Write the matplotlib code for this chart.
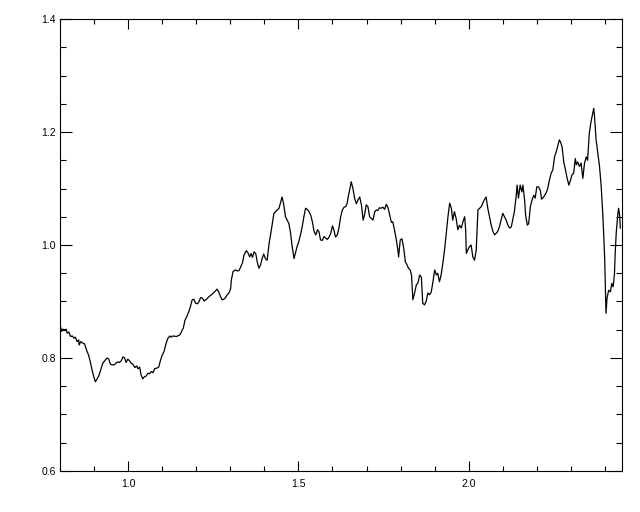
import numpy as np
import matplotlib
matplotlib.use('Agg')
import matplotlib.pyplot as plt
from matplotlib.ticker import MultipleLocator

# Values
x = [0.801, 0.804, 0.808, 0.814, 0.818, 0.821, 0.826, 0.831, 0.836, 0.841,
     0.845, 0.850, 0.855, 0.856, 0.861, 0.865, 0.872, 0.878, 0.884, 0.889,
     0.894, 0.900, 0.904, 0.909, 0.915, 0.921, 0.926, 0.931, 0.938, 0.943,
     0.948, 0.952, 0.960, 0.966, 0.970, 0.974, 0.980, 0.985, 0.990, 0.994,
     0.999, 1.004, 1.009, 1.014, 1.020, 1.025, 1.029, 1.034, 1.038, 1.043,
     1.048, 1.053, 1.058, 1.063, 1.068, 1.073, 1.078, 1.084, 1.090, 1.095,
     1.100, 1.105, 1.112, 1.117, 1.123, 1.126, 1.131, 1.142, 1.152, 1.157,
     1.162, 1.167, 1.172, 1.178, 1.183, 1.188, 1.193, 1.198, 1.204, 1.208,
     1.213, 1.218, 1.223, 1.230, 1.235, 1.240, 1.247, 1.252, 1.257, 1.261,
     1.266, 1.271, 1.276, 1.281, 1.286, 1.291, 1.296, 1.301, 1.303, 1.308,
     1.315, 1.321, 1.326, 1.331, 1.336, 1.340, 1.347, 1.352, 1.357, 1.361,
     1.365, 1.370, 1.375, 1.379, 1.384, 1.389, 1.393, 1.398, 1.403, 1.408,
     1.414, 1.419, 1.424, 1.428, 1.433, 1.438, 1.443, 1.447, 1.452, 1.457,
     1.462, 1.467, 1.472, 1.477, 1.481, 1.486, 1.487, 1.491, 1.496, 1.501,
     1.506, 1.511, 1.516, 1.521, 1.526, 1.531, 1.536, 1.541, 1.546, 1.551,
     1.556, 1.560, 1.565, 1.570, 1.575, 1.580, 1.585, 1.590, 1.595, 1.600,
     1.604, 1.609, 1.614, 1.619, 1.624, 1.629, 1.634, 1.639, 1.643, 1.647,
     1.652, 1.655, 1.660, 1.665, 1.670, 1.675, 1.680, 1.685, 1.690, 1.694,
     1.699, 1.704, 1.709, 1.714, 1.719, 1.724, 1.729, 1.733, 1.738, 1.743,
     1.748, 1.753, 1.758, 1.763, 1.768, 1.773, 1.777, 1.782, 1.787, 1.792,
     1.794, 1.799, 1.804, 1.809, 1.814, 1.818, 1.823, 1.828, 1.832, 1.836,
     1.841, 1.846, 1.851, 1.856, 1.861, 1.865, 1.870, 1.875, 1.880, 1.885,
     1.890, 1.895, 1.900, 1.905, 1.909, 1.914, 1.919, 1.924, 1.929, 1.934,
     1.939, 1.944, 1.949, 1.953, 1.958, 1.963, 1.968, 1.973, 1.978, 1.983,
     1.988, 1.991, 1.993, 1.997, 2.002, 2.007, 2.012, 2.017, 2.022, 2.027,
     2.032, 2.037, 2.041, 2.046, 2.051, 2.056, 2.061, 2.066, 2.071, 2.076,
     2.081, 2.085, 2.090, 2.095, 2.100, 2.105, 2.110, 2.115, 2.120, 2.125,
     2.129, 2.134, 2.139, 2.142, 2.146, 2.151, 2.156, 2.159, 2.164, 2.167,
     2.172, 2.176, 2.181, 2.186, 2.191, 2.195, 2.200, 2.205, 2.210, 2.214,
     2.220, 2.227, 2.232, 2.237, 2.242, 2.247, 2.252, 2.257, 2.261, 2.266,
     2.269, 2.274, 2.279, 2.284, 2.289, 2.294, 2.299, 2.303, 2.308, 2.313,
     2.316, 2.320, 2.325, 2.330, 2.335, 2.340, 2.345, 2.349, 2.354, 2.359,
     2.364, 2.367, 2.369, 2.374, 2.379, 2.384, 2.389, 2.394, 2.399, 2.402,
     2.403, 2.406, 2.411, 2.416, 2.420, 2.424, 2.428, 2.430, 2.433, 2.437,
     2.440, 2.443, 2.445]

y = [0.858, 0.847, 0.851, 0.850, 0.851, 0.844, 0.846, 0.838, 0.839, 0.835,
     0.837, 0.829, 0.832, 0.823, 0.829, 0.827, 0.825, 0.814, 0.805, 0.793,
     0.779, 0.765, 0.758, 0.763, 0.770, 0.782, 0.791, 0.795, 0.800, 0.798,
     0.789, 0.788, 0.788, 0.792, 0.793, 0.792, 0.795, 0.802, 0.800, 0.792,
     0.798, 0.795, 0.791, 0.789, 0.783, 0.786, 0.781, 0.784, 0.770, 0.763,
     0.767, 0.768, 0.773, 0.772, 0.776, 0.774, 0.781, 0.782, 0.784, 0.796,
     0.805, 0.811, 0.827, 0.835, 0.839, 0.837, 0.839, 0.838, 0.841, 0.847,
     0.853, 0.867, 0.873, 0.882, 0.891, 0.903, 0.904, 0.897, 0.896, 0.900,
     0.907, 0.906, 0.901, 0.904, 0.907, 0.910, 0.913, 0.916, 0.919, 0.922,
     0.917, 0.909, 0.903, 0.904, 0.907, 0.912, 0.915, 0.923, 0.938, 0.953,
     0.956, 0.954, 0.955, 0.962, 0.969, 0.982, 0.990, 0.986, 0.979, 0.985,
     0.978, 0.988, 0.984, 0.970, 0.959, 0.965, 0.975, 0.984, 0.976, 0.973,
     1.003, 1.021, 1.041, 1.056, 1.059, 1.062, 1.065, 1.074, 1.085, 1.071,
     1.050, 1.044, 1.038, 1.021, 1.000, 0.979, 0.976, 0.985, 0.997, 1.006,
     1.018, 1.032, 1.050, 1.065, 1.063, 1.059, 1.053, 1.041, 1.024, 1.018,
     1.027, 1.024, 1.009, 1.008, 1.015, 1.012, 1.010, 1.014, 1.021, 1.034,
     1.027, 1.014, 1.018, 1.030, 1.050, 1.062, 1.067, 1.068, 1.074, 1.088,
     1.102, 1.112, 1.100, 1.083, 1.073, 1.080, 1.085, 1.071, 1.044, 1.053,
     1.071, 1.068, 1.050, 1.047, 1.044, 1.059, 1.062, 1.061, 1.066, 1.065,
     1.067, 1.063, 1.072, 1.066, 1.053, 1.040, 1.041, 1.027, 1.011, 0.991,
     0.979, 1.009, 1.011, 0.995, 0.970, 0.966, 0.959, 0.956, 0.947, 0.903,
     0.915, 0.929, 0.933, 0.947, 0.943, 0.897, 0.894, 0.900, 0.915, 0.912,
     0.917, 0.935, 0.956, 0.947, 0.950, 0.935, 0.947, 0.968, 0.991, 1.021,
     1.050, 1.074, 1.065, 1.044, 1.059, 1.047, 1.027, 1.035, 1.030, 1.041,
     1.050, 1.027, 0.985, 0.991, 0.997, 1.000, 0.979, 0.973, 0.991, 1.062,
     1.065, 1.068, 1.074, 1.080, 1.085, 1.065, 1.050, 1.035, 1.024, 1.018,
     1.021, 1.024, 1.032, 1.044, 1.056, 1.050, 1.044, 1.035, 1.030, 1.032,
     1.044, 1.059, 1.085, 1.106, 1.083, 1.106, 1.094, 1.106, 1.080, 1.053,
     1.035, 1.038, 1.068, 1.080, 1.088, 1.083, 1.103, 1.103, 1.097, 1.081,
     1.085, 1.092, 1.100, 1.115, 1.127, 1.133, 1.156, 1.165, 1.174, 1.186,
     1.183, 1.174, 1.147, 1.133, 1.118, 1.106, 1.115, 1.124, 1.127, 1.153,
     1.142, 1.147, 1.139, 1.145, 1.118, 1.145, 1.156, 1.150, 1.198, 1.218,
     1.233, 1.242, 1.230, 1.186, 1.162, 1.139, 1.103, 1.050, 0.979, 0.903,
     0.879, 0.906, 0.920, 0.917, 0.932, 0.926, 0.950, 0.985, 1.021, 1.050,
     1.065, 1.053, 1.030]

xlim = (0.8, 2.45)
ylim = (0.6, 1.4)

plt.rcParams['font.family'] = ['Liberation Sans', 'DejaVu Sans']

fig = plt.figure(figsize=(6.4, 5.12), dpi=100)
ax = fig.add_axes([60/640, 41/512, 562/640, 452/512])

ax.plot(x, y, color='black', linewidth=0.9)

ax.set_xlim(*xlim)
ax.set_ylim(*ylim)

ax.xaxis.set_major_locator(MultipleLocator(0.5))
ax.xaxis.set_minor_locator(MultipleLocator(0.1))
ax.yaxis.set_major_locator(MultipleLocator(0.2))
ax.yaxis.set_minor_locator(MultipleLocator(0.05))

ax.tick_params(axis='both', which='both', direction='in',
               top=True, right=True, width=0.8, labelsize=7.5,
               colors='black')
ax.tick_params(axis='x', which='major', length=7, pad=6)
ax.tick_params(axis='x', which='minor', length=3.5)
ax.tick_params(axis='y', which='major', length=8.5, pad=3)
ax.tick_params(axis='y', which='minor', length=4.5)

for s in ax.spines.values():
    s.set_linewidth(0.8)

fig.savefig('out.png', dpi=100)
